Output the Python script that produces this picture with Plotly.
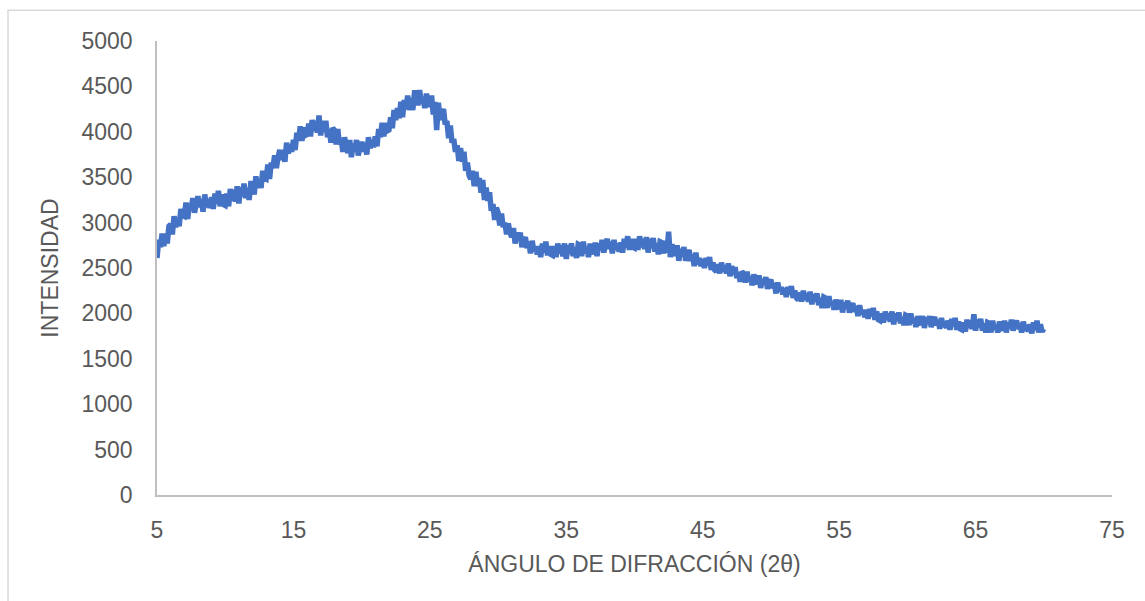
import plotly.graph_objects as go

# Diffraction angle 2θ (degrees), sampled every 0.125° from 5° to 70°
two_theta = [5 + 0.125 * i for i in range(521)]

# Measured intensity (counts), one row of 8 readings per degree
intensity = [
    2610, 2810, 2730, 2880, 2740, 2880, 2770, 2960,   # 5
    2980, 2870, 3070, 2950, 3050, 2960, 3150, 3080,   # 6
    3070, 3220, 3040, 3210, 3140, 3270, 3110, 3220,   # 7
    3290, 3170, 3260, 3120, 3310, 3170, 3260, 3160,   # 8
    3280, 3150, 3320, 3210, 3350, 3180, 3310, 3200,   # 9
    3190, 3320, 3180, 3370, 3240, 3360, 3230, 3400,   # 10
    3210, 3390, 3290, 3430, 3270, 3380, 3250, 3430,   # 11
    3430, 3310, 3510, 3380, 3480, 3380, 3570, 3490,   # 12
    3480, 3640, 3480, 3660, 3600, 3740, 3600, 3720,   # 13
    3800, 3690, 3800, 3670, 3880, 3760, 3860, 3780,   # 14
    3910, 3800, 3990, 3900, 4060, 3900, 4050, 3960,   # 15
    3970, 4090, 3950, 4130, 4010, 4120, 3990, 4180,   # 16
    3960, 4120, 4000, 4120, 3940, 4030, 3880, 4040,   # 17
    4020, 3860, 4030, 3860, 3920, 3780, 3940, 3820,   # 18
    3770, 3910, 3720, 3870, 3790, 3910, 3740, 3830,   # 19
    3890, 3780, 3880, 3750, 3940, 3820, 3910, 3830,   # 20
    3950, 3840, 4030, 3940, 4100, 3950, 4100, 4010,   # 21
    4020, 4160, 4040, 4240, 4130, 4260, 4150, 4330,   # 22
    4160, 4350, 4250, 4400, 4240, 4370, 4240, 4430,   # 23
    4430, 4290, 4460, 4310, 4380, 4260, 4420, 4320,   # 24
    4280, 4400, 4190, 4330, 4020, 4320, 4130, 4210,   # 25
    4250, 4080, 4120, 3930, 4070, 3880, 3920, 3780,   # 26
    3850, 3680, 3820, 3670, 3780, 3570, 3660, 3520,   # 27
    3480, 3570, 3400, 3560, 3400, 3490, 3330, 3470,   # 28
    3250, 3385, 3240, 3335, 3130, 3205, 3030, 3165,   # 29
    3110, 2970, 3100, 2950, 3000, 2870, 2990, 2890,   # 30
    2840, 2940, 2770, 2890, 2800, 2890, 2730, 2800,   # 31
    2840, 2720, 2790, 2660, 2800, 2680, 2740, 2650,   # 32
    2740, 2620, 2770, 2670, 2790, 2640, 2740, 2650,   # 33
    2640, 2740, 2620, 2770, 2660, 2750, 2630, 2770,   # 34
    2600, 2750, 2660, 2770, 2630, 2730, 2610, 2760,   # 35
    2750, 2630, 2790, 2660, 2730, 2620, 2770, 2680,   # 36
    2660, 2780, 2630, 2770, 2700, 2810, 2670, 2760,   # 37
    2820, 2710, 2790, 2660, 2810, 2700, 2770, 2680,   # 38
    2780, 2670, 2820, 2730, 2850, 2700, 2820, 2730,   # 39
    2720, 2820, 2700, 2850, 2730, 2820, 2710, 2840,   # 40
    2670, 2820, 2720, 2830, 2680, 2770, 2650, 2790,   # 41
    2780, 2660, 2800, 2670, 2900, 2620, 2760, 2670,   # 42
    2640, 2750, 2580, 2710, 2630, 2730, 2580, 2650,   # 43
    2700, 2580, 2650, 2520, 2670, 2540, 2610, 2520,   # 44
    2600, 2500, 2610, 2530, 2620, 2480, 2560, 2480,   # 45
    2460, 2540, 2440, 2560, 2460, 2530, 2440, 2550,   # 46
    2410, 2520, 2430, 2510, 2390, 2450, 2350, 2460,   # 47
    2440, 2340, 2460, 2350, 2400, 2310, 2430, 2350,   # 48
    2330, 2420, 2280, 2380, 2320, 2400, 2270, 2340,   # 49
    2370, 2280, 2330, 2220, 2340, 2240, 2290, 2210,   # 50
    2280, 2180, 2290, 2210, 2300, 2170, 2250, 2170,   # 51
    2150, 2230, 2130, 2250, 2150, 2220, 2130, 2240,   # 52
    2100, 2210, 2130, 2220, 2090, 2170, 2060, 2180,   # 53
    2170, 2060, 2190, 2080, 2130, 2040, 2150, 2080,   # 54
    2050, 2150, 2010, 2120, 2060, 2140, 2010, 2080,   # 55
    2110, 2020, 2080, 1970, 2090, 1990, 2040, 1960,   # 56
    2040, 1940, 2050, 1970, 2060, 1930, 2020, 1930,   # 57
    1920, 2000, 1900, 2020, 1930, 2000, 1910, 2020,   # 58
    1880, 2000, 1920, 2010, 1890, 1960, 1870, 1980,   # 59
    1970, 1870, 2000, 1890, 1940, 1850, 1970, 1900,   # 60
    1880, 1970, 1840, 1950, 1890, 1970, 1850, 1920,   # 61
    1960, 1870, 1930, 1830, 1950, 1850, 1910, 1840,   # 62
    1920, 1820, 1940, 1860, 1950, 1820, 1910, 1830,   # 63
    1820, 1900, 1800, 1930, 1840, 1920, 1830, 1990,   # 64
    1810, 1930, 1850, 1940, 1810, 1890, 1790, 1900,   # 65
    1890, 1790, 1920, 1820, 1870, 1790, 1910, 1840,   # 66
    1820, 1920, 1790, 1900, 1840, 1930, 1810, 1880,   # 67
    1920, 1830, 1890, 1790, 1910, 1810, 1870, 1800,   # 68
    1880, 1780, 1900, 1820, 1920, 1790, 1880, 1800,   # 69
    1830,                                             # 70
]

x_ticks = [5, 15, 25, 35, 45, 55, 65, 75]
y_ticks = [0, 500, 1000, 1500, 2000, 2500, 3000, 3500, 4000, 4500, 5000]

FONT = "Liberation Sans, Arial, sans-serif"
TEXT = "#595959"
AXIS = "#bfbfbf"

fig = go.Figure(
    go.Scatter(
        x=two_theta,
        y=intensity,
        mode="lines",
        line=dict(color="#4472C4", width=5.5),
        showlegend=False,
    )
)

fig.update_layout(
    width=1145,
    height=601,
    margin=dict(l=157, r=33, t=41, b=106),
    paper_bgcolor="white",
    plot_bgcolor="white",
    font=dict(family=FONT, size=23, color=TEXT),
    xaxis=dict(
        range=[5, 75],
        tickvals=x_ticks,
        ticktext=[str(v) for v in x_ticks],
        showgrid=False,
        zeroline=False,
        showline=True,
        linecolor=AXIS,
        linewidth=1.5,
        ticks="",
        ticklabelstandoff=14,
        tickfont=dict(family=FONT, size=23, color=TEXT),
        title=dict(text="ÁNGULO DE DIFRACCIÓN (2θ)", standoff=14,
                   font=dict(family=FONT, size=23, color=TEXT)),
        automargin=False,
    ),
    yaxis=dict(
        range=[0, 5000],
        tickvals=y_ticks,
        ticktext=[str(v) for v in y_ticks],
        showgrid=False,
        zeroline=False,
        showline=True,
        linecolor=AXIS,
        linewidth=1.5,
        ticks="",
        ticklabelstandoff=18,
        tickfont=dict(family=FONT, size=23, color=TEXT),
        title=dict(text="INTENSIDAD", standoff=16,
                   font=dict(family=FONT, size=23, color=TEXT)),
        automargin=False,
    ),
    shapes=[
        # chart-area frame (top and left edges fall inside the page)
        dict(type="rect", xref="paper", yref="paper",
             x0=-0.156, x1=1.06, y0=-0.26, y1=1.068,
             line=dict(color="#d9d9d9", width=1.5), layer="below"),
    ],
)

fig.write_html("out.html")
